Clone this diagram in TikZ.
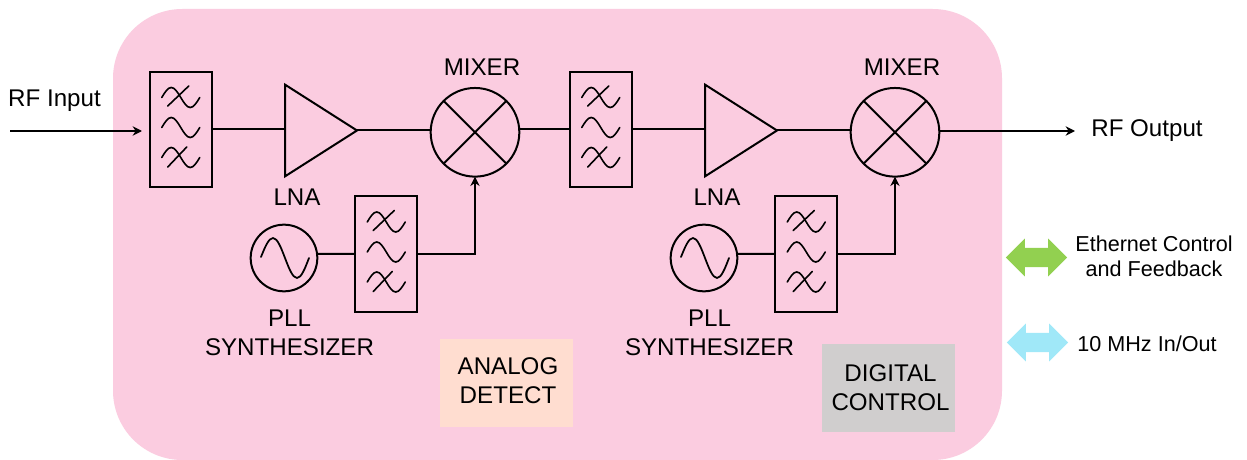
\documentclass[tikz,border=0pt]{standalone}
\usepackage{fontspec}
\setmainfont{Liberation Sans}
\usetikzlibrary{arrows.meta,shapes.geometric,shapes.arrows,calc}
\definecolor{panelpink}{HTML}{FBCCE0}
\definecolor{analogbg}{HTML}{FFDDD0}
\definecolor{digitalbg}{HTML}{D0CECE}
\definecolor{ethgreen}{HTML}{92D050}
\definecolor{refblue}{HTML}{A0E8F8}
\tikzset{
  wire/.style={line width=1.5pt,line join=miter},
  sig/.style={wire,-{Stealth[length=7pt,width=7pt]}},
  filterbox/.style={draw,line width=1.5pt,minimum width=46.5pt,minimum height=86.5pt,inner sep=0pt,outer sep=0pt},
  wave/.style={line width=1.2pt,line cap=round},
  amp/.style={draw,line width=1.5pt,isosceles triangle,isosceles triangle apex angle=65,minimum height=54pt,inner sep=0pt,outer sep=0pt,anchor=lower side},
  mixernode/.style={draw,circle,line width=1.5pt,minimum size=66.5pt,inner sep=0pt,outer sep=0pt},
  oscnode/.style={draw,circle,line width=1.5pt,minimum size=50pt,inner sep=0pt,outer sep=0pt},
  lbl/.style={font=\fontsize{18.1pt}{21.5pt}\selectfont,align=center,inner sep=0pt},
  smalllbl/.style={font=\fontsize{16.2pt}{19pt}\selectfont,align=center,inner sep=0pt},
  infobox/.style={minimum width=100pt,minimum height=66pt,inner sep=0pt},
  busarrow/.style={double arrow,double arrow head extend=7pt,double arrow tip angle=90,minimum height=46pt,minimum width=28pt,inner xsep=0pt,inner ysep=7pt,outer sep=0pt},
}
% filter block: name, centre x, centre y
\newcommand{\rffilter}[3]{%
  \node[filterbox] (#1) at (#2,#3) {};
  \begin{scope}[shift={(#2,#3)}]
    \foreach \dy in {-32,-2,28} {
      \draw[wave] (-19,\dy) sin (-9.5,\dy-10) cos (0,\dy) sin (9.5,\dy+10) cos (19,\dy);
    }
    \draw[wave] (-13,-23.5) -- (8,-43.5);
    \draw[wave] (-13,37.5) -- (6,17.5);
  \end{scope}%
}
% one stage: suffix, x offset
\newcommand{\rfstage}[2]{%
  \begin{scope}[shift={(#2,0)}]
    \rffilter{fa#1}{180.75}{129.5}
    \node[amp] (lna#1) at (285,130.5) {};
    \node[mixernode] (mix#1) at (475,132.3) {};
    \draw[wire] (mix#1.45) -- (mix#1.225);
    \draw[wire] (mix#1.135) -- (mix#1.315);
    \node[oscnode] (osc#1) at (284,258) {};
    \draw[line width=1.3pt,line cap=round] (261,257) sin (273,238) cos (285,258) sin (297,278) cos (309,258);
    \rffilter{fb#1}{386.25}{254}
    \draw[wire] (fa#1.east) -- (fa#1.east -| lna#1.lower side);
    \draw[wire] (lna#1.apex) -- (lna#1.apex -| mix#1.west);
    \draw[wire] (osc#1.7) -- (fb#1.west);
    \draw[sig] (fb#1.east) -| (mix#1.south);
    \node[lbl] (mixl#1) at (482,67) {MIXER};
    \node[lbl] (lnal#1) at (297,197) {LNA};
    \node[lbl] (pll#1) at (289.5,332.5) {PLL\\SYNTHESIZER};
  \end{scope}%
}
\begin{document}
\begin{tikzpicture}[x=0.75pt,y=-0.75pt]
  \path[use as bounding box,fill=white] (0,0) rectangle (1247,460);
  \fill[panelpink,rounded corners=52pt] (113,9) rectangle (1002,460);
  \node[infobox,fill=analogbg] (analog) at (506.5,383) {};
  \node[lbl] (analogl) at (508,381) {ANALOG\\DETECT};
  \node[infobox,fill=digitalbg] (digital) at (888.5,388) {};
  \node[lbl] (digitall) at (890.5,388) {DIGITAL\\CONTROL};
  \rfstage{1}{0}
  \rfstage{2}{420}
  \coordinate (infree) at (10,131);
  \coordinate (intip) at (142,131);
  \coordinate (outfree) at (1075,131);
  \draw[sig] (infree) -- (intip);
  \draw[wire] (mix1.east |- fa2.west) -- (fa2.west);
  \draw[sig] (mix2.east |- outfree) -- (outfree);
  \node[lbl] (rfin) at (54.5,101) {RF Input};
  \node[lbl] (rfout) at (1147,131) {RF Output};
  \node[busarrow,fill=ethgreen] (eth) at (1036.5,257.5) {};
  \node[busarrow,fill=refblue] (ref) at (1037.5,342.5) {};
  \node[smalllbl] (ethl) at (1154,256.5) {Ethernet Control\\and Feedback};
  \node[smalllbl] (refl) at (1147,344) {10 MHz In/Out};
\end{tikzpicture}
\end{document}
